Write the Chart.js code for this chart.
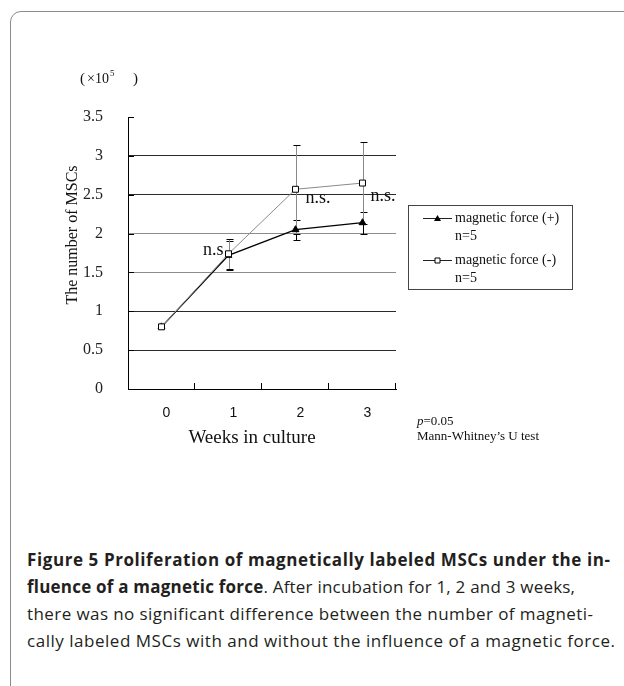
<!DOCTYPE html>
<html>
<head>
<meta charset="utf-8">
<title>Figure 5</title>
<script src="https://cdn.jsdelivr.net/npm/chart.js@4.4.1/dist/chart.umd.min.js"></script>
<style>
  html, body { margin: 0; padding: 0; background: #fff; }
  body { width: 624px; height: 686px; position: relative; overflow: hidden; }
  .frame {
    position: absolute; left: 10px; top: 11px; width: 660px; height: 720px;
    border: 1.5px solid #8c8c8c; border-radius: 11px; box-sizing: border-box;
  }
  #chart { position: absolute; left: 0; top: 0; }
  .caption {
    position: absolute; left: 27px; top: 546px;
    font-family: "Open Sans", "Noto Sans", sans-serif; font-size: 17px;
    line-height: 27px; color: #231f20;
  }
  .caption div { white-space: nowrap; }
  .caption b { font-weight: 700; }
</style>
</head>
<body>
<div class="frame"></div>
<canvas id="chart" width="624" height="480"></canvas>
<div class="caption">
  <div><span><b>Figure 5 Proliferation of magnetically labeled MSCs under the in-</b></span></div>
  <div><span><b>fluence of a magnetic force</b>. After incubation for 1, 2 and 3 weeks,</span></div>
  <div><span>there was no significant difference between the number of magneti-</span></div>
  <div><span>cally labeled MSCs with and without the influence of a magnetic force.</span></div>
</div>
<script>
// chart data (cell count x 10^5)
const weeks = ["0", "1", "2", "3"];
const seriesLabels = ["magnetic force (+)", "magnetic force (-)"];
const sampleSizes = ["n=5", "n=5"];
const forcePlus = [0.8, 1.72, 2.05, 2.14];
const forcePlusErr = [0, 0.19, 0.13, 0.14];
const forceMinus = [0.8, 1.74, 2.57, 2.65];
const forceMinusErr = [0, 0.19, 0.57, 0.53];
const yTicks = [0, 0.5, 1, 1.5, 2, 2.5, 3, 3.5];
const nsLabels = ["", "n.s", "n.s.", "n.s."];

const SERIF = '"Liberation Serif", "DejaVu Serif", serif';

// draws error bars under the lines
function drawErrorBars(chart) {
  const { ctx } = chart;
  const x = chart.scales.x;
  const y = chart.scales.y;
  ctx.save();
  chart.data.datasets.forEach((ds) => {
    ds.errors.forEach((e, i) => {
      if (!e) return;
      const v = ds.data[i];
      const px = Math.round(x.getPixelForValue(i)) + 0.5;
      const top = Math.round(y.getPixelForValue(v + e)) + 0.5;
      const bot = Math.round(y.getPixelForValue(v - e)) + 0.5;
      ctx.lineWidth = 1;
      ctx.strokeStyle = ds.errorColor;
      ctx.beginPath();
      ctx.moveTo(px, top);
      ctx.lineTo(px, bot);
      ctx.stroke();
      ctx.strokeStyle = "#000";
      ctx.beginPath();
      ctx.moveTo(px - 3, top);
      ctx.lineTo(px + 4, top);
      ctx.moveTo(px - 3, bot);
      ctx.lineTo(px + 4, bot);
      ctx.stroke();
    });
  });
  ctx.restore();
}

function drawMarker(ctx, style, cx, cy) {
  ctx.beginPath();
  if (style === "triangle") {
    ctx.moveTo(cx, cy - 3.5);
    ctx.lineTo(cx + 3.5, cy + 2.5);
    ctx.lineTo(cx - 3.5, cy + 2.5);
    ctx.closePath();
    ctx.fillStyle = "#000";
    ctx.fill();
  } else {
    ctx.rect(cx - 2.5, cy - 2.5, 5, 5);
    ctx.fillStyle = "#fff";
    ctx.fill();
    ctx.strokeStyle = "#000";
    ctx.stroke();
  }
}

// axis titles, notes, inside tick marks and the boxed legend
function drawExtras(chart) {
  const { ctx, chartArea } = chart;
  const x = chart.scales.x;
  const y = chart.scales.y;
  ctx.save();
  ctx.fillStyle = "#111";
  ctx.strokeStyle = "#000";
  ctx.lineWidth = 1;

  // inside tick marks on y axis
  ctx.beginPath();
  yTicks.forEach((t) => {
    const py = Math.round(y.getPixelForValue(t)) + 0.5;
    ctx.moveTo(chartArea.left, py);
    ctx.lineTo(chartArea.left + 6, py);
  });
  // inside tick marks on x axis (category boundaries)
  const half = (x.getPixelForValue(1) - x.getPixelForValue(0)) / 2;
  weeks.forEach((w, i) => {
    const px = Math.round(x.getPixelForValue(i) + half) - 0.5;
    ctx.moveTo(px, chartArea.bottom);
    ctx.lineTo(px, chartArea.bottom - 6);
  });
  ctx.stroke();

  // n.s. marks
  const nsSpots = [null, { dx: -5, v: 1.78, align: "right" }, { dx: 10, v: 2.45, align: "left" }, { dx: 8, v: 2.48, align: "left" }];
  ctx.font = "18px " + SERIF;
  ctx.textBaseline = "middle";
  nsLabels.forEach((s, i) => {
    if (!s) return;
    const spot = nsSpots[i];
    ctx.textAlign = spot.align;
    ctx.fillText(s, x.getPixelForValue(i) + spot.dx, y.getPixelForValue(spot.v));
  });

  // y axis title
  ctx.save();
  ctx.translate(73, 235);
  ctx.rotate(-Math.PI / 2);
  ctx.textAlign = "center";
  ctx.font = "16px " + SERIF;
  ctx.fillText("The number of MSCs", 0, 0);
  ctx.restore();

  // unit (x10^5)
  ctx.textAlign = "left";
  ctx.font = "15px " + SERIF;
  ctx.fillText("(", 80, 79);
  ctx.font = "14px " + SERIF;
  ctx.fillText("\u00d710", 87, 79);
  const uw = ctx.measureText("\u00d710").width;
  ctx.font = "9px " + SERIF;
  ctx.fillText("5", 88 + uw, 74);
  ctx.font = "15px " + SERIF;
  ctx.fillText(")", 133, 79);

  // x axis title
  ctx.textAlign = "center";
  ctx.font = "19px " + SERIF;
  ctx.fillText("Weeks in culture", 252, 438);

  // test note
  ctx.textAlign = "left";
  ctx.font = "italic 13px " + SERIF;
  ctx.fillText("p", 417, 422);
  const pw = ctx.measureText("p").width;
  ctx.font = "13px " + SERIF;
  ctx.fillText("=0.05", 417 + pw, 422);
  ctx.fillText("Mann-Whitney\u2019s U test", 417, 437);

  // legend
  ctx.strokeStyle = "#444";
  ctx.strokeRect(408.5, 205.5, 164, 84);
  ctx.font = "14px " + SERIF;
  chart.data.datasets.forEach((ds, i) => {
    const rowY = 218 + i * 42;
    ctx.strokeStyle = "#222";
    ctx.lineWidth = 1;
    ctx.beginPath();
    ctx.moveTo(423, rowY + 0.5);
    ctx.lineTo(452, rowY + 0.5);
    ctx.stroke();
    drawMarker(ctx, ds.pointStyle, 437.5, rowY + 0.5);
    ctx.fillStyle = "#111";
    ctx.fillText(ds.label, 455, rowY);
    ctx.fillText(sampleSizes[i], 455, rowY + 18);
  });
  ctx.restore();
}

const extrasPlugin = {
  id: "extras",
  beforeDatasetsDraw: drawErrorBars,
  afterDraw: drawExtras,
};

new Chart(document.getElementById("chart"), {
  type: "line",
  data: {
    labels: weeks,
    datasets: [
      {
        label: seriesLabels[0],
        data: forcePlus,
        errors: forcePlusErr,
        errorColor: "#000",
        borderColor: "#000",
        borderWidth: 1.3,
        pointStyle: "triangle",
        pointRadius: 4,
        pointBackgroundColor: "#000",
        pointBorderColor: "#000",
        pointBorderWidth: 1,
        order: 1,
      },
      {
        label: seriesLabels[1],
        data: forceMinus,
        errors: forceMinusErr,
        errorColor: "#8a8a8a",
        borderColor: "#8a8a8a",
        borderWidth: 1,
        pointStyle: "rect",
        pointRadius: 4.2,
        pointBackgroundColor: "#fff",
        pointBorderColor: "#000",
        pointBorderWidth: 1,
        order: 0,
      },
    ],
  },
  options: {
    responsive: false,
    animation: false,
    events: [],
    layout: { padding: { top: 117, right: 228, left: 0, bottom: 0 } },
    plugins: { legend: { display: false }, tooltip: { enabled: false } },
    scales: {
      x: {
        type: "category",
        offset: true,
        grid: { display: true, drawOnChartArea: false, drawTicks: false },
        border: { color: "#000", width: 1 },
        ticks: {
          font: { family: '"Liberation Sans", Arial, sans-serif', size: 14 },
          color: "#111",
          padding: 16,
          labelOffset: 5,
          maxRotation: 0,
        },
        afterFit(scale) {
          scale.height = 91;
        },
      },
      y: {
        min: 0,
        max: 3.5,
        afterBuildTicks(scale) {
          scale.ticks = yTicks.map((v) => ({ value: v }));
        },
        grid: {
          drawTicks: false,
          lineWidth: 1,
          color(c) {
            const v = c.tick ? c.tick.value : null;
            if (v === 0 || v === 3.5) return "rgba(0,0,0,0)";
            if (v === 1.5 || v === 2) return "#8c8c8c";
            return "#2a2a2a";
          },
        },
        border: { color: "#000", width: 1 },
        ticks: {
          font: { family: SERIF, size: 16 },
          color: "#222",
          padding: 25,
          callback: (v) => String(v),
        },
        afterFit(scale) {
          scale.width = 128;
        },
      },
    },
  },
  plugins: [extrasPlugin],
});

// squeeze caption lines to their widths in the figure
function fitCaption() {
  const targets = [583, 548, 566, 588];
  document.querySelectorAll(".caption span").forEach((el, i) => {
    el.style.letterSpacing = "0px";
    const w = el.getBoundingClientRect().width;
    const n = el.textContent.length - 1;
    el.style.letterSpacing = ((targets[i] - w) / n).toFixed(3) + "px";
  });
}
fitCaption();
if (document.fonts) document.fonts.ready.then(fitCaption);
</script>
</body>
</html>
